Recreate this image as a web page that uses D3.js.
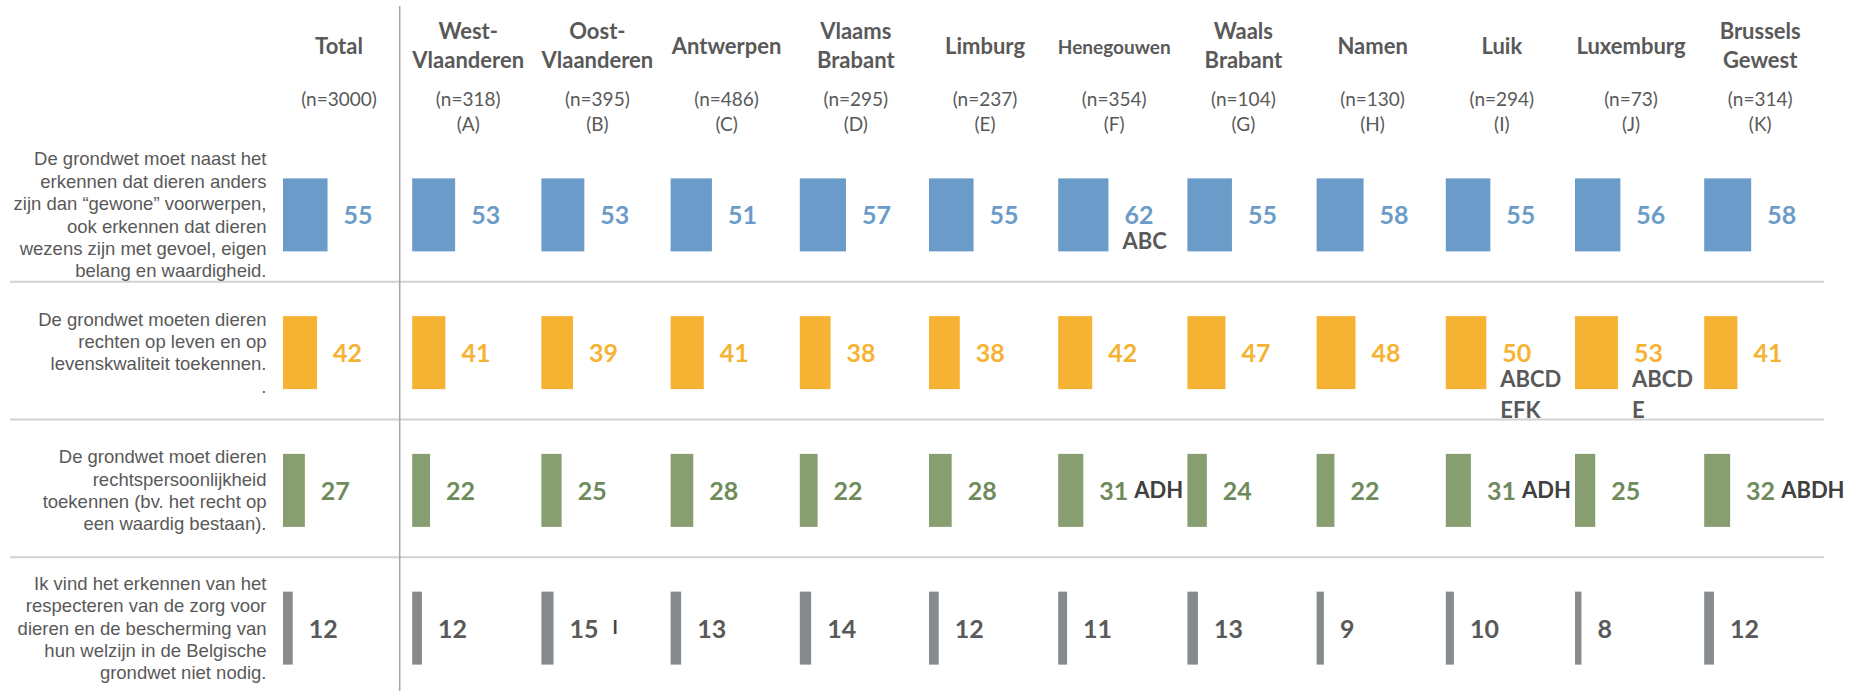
<!DOCTYPE html>
<html>
<head>
<meta charset="utf-8">
<script src="https://cdn.jsdelivr.net/npm/d3@7"></script>
<style>
  body { margin: 0; background: #fff; }
  svg { display: block; }
</style>
</head>
<body>
<svg id="chart"></svg>
<script>
// columns: total + provinces
const regions = ["Total", "West-Vlaanderen", "Oost-Vlaanderen", "Antwerpen", "Vlaams Brabant", "Limburg",
  "Henegouwen", "Waals Brabant", "Namen", "Luik", "Luxemburg", "Brussels Gewest"];
const headerLines = [["Total"], ["West-", "Vlaanderen"], ["Oost-", "Vlaanderen"], ["Antwerpen"], ["Vlaams", "Brabant"],
  ["Limburg"], ["Henegouwen"], ["Waals", "Brabant"], ["Namen"], ["Luik"], ["Luxemburg"], ["Brussels", "Gewest"]];
const sampleSizes = [3000, 318, 395, 486, 295, 237, 354, 104, 130, 294, 73, 314];
const groupLetters = ["", "A", "B", "C", "D", "E", "F", "G", "H", "I", "J", "K"];

// statements (row labels)
const statements = [
  ["De grondwet moet naast het", "erkennen dat dieren anders", "zijn dan \u201cgewone\u201d voorwerpen,", "ook erkennen dat dieren", "wezens zijn met gevoel, eigen", "belang en waardigheid."],
  ["De grondwet moeten dieren", "rechten op leven en op", "levenskwaliteit toekennen.", "."],
  ["De grondwet moet dieren", "rechtspersoonlijkheid", "toekennen (bv. het recht op", "een waardig bestaan)."],
  ["Ik vind het erkennen van het", "respecteren van de zorg voor", "dieren en de bescherming van", "hun welzijn in de Belgische", "grondwet niet nodig."]
];

// percentages per statement
const values1 = [55, 53, 53, 51, 57, 55, 62, 55, 58, 55, 56, 58];
const values2 = [42, 41, 39, 41, 38, 38, 42, 47, 48, 50, 53, 41];
const values3 = [27, 22, 25, 28, 22, 28, 31, 24, 22, 31, 25, 32];
const values4 = [12, 12, 15, 13, 14, 12, 11, 13, 9, 10, 8, 12];

// significance letters
const sig1 = ["", "", "", "", "", "", "ABC", "", "", "", "", ""];
const sig2 = ["", "", "", "", "", "", "", "", "", "ABCD EFK", "ABCD E", ""];
const sig3 = ["", "", "", "", "", "", "ADH", "", "", "ADH", "", "ABDH"];
const sig4 = ["", "", "I", "", "", "", "", "", "", "", "", ""];

const barColors = ["#6b9cc9", "#f6b333", "#879f70", "#888b8e"];
const labelColors = ["#6b9cc9", "#f6b333", "#6f8a5b", "#595959"];

const allValues = [values1, values2, values3, values4];
const allSig = [sig1, sig2, sig3, sig4];
const sigMode = ["below", "below", "inline", "inline"];

const width = 1853, height = 691;
const textGray = "#595959";

const svg = d3.select("#chart").attr("width", width).attr("height", height);

const col = d3.scaleBand().domain(regions).range([283, 283 + 12 * 129.2]);
const row = d3.scaleBand().domain(d3.range(4)).range([146, 697]);
const x = d3.scaleLinear().domain([0, 100]).range([0, 81]);
const barH = 73;
const colCenter = r => col(r) + 56;
const rowCenter = i => row(i) + row.bandwidth() / 2;

// separators between statements
svg.selectAll("line.sep")
  .data([1, 2, 3])
  .enter().append("line")
  .attr("x1", 10).attr("x2", 1824)
  .attr("y1", i => row(i) - 2).attr("y2", i => row(i) - 2)
  .attr("stroke", "#d2d2d2").attr("stroke-width", 2);

// divider after Total
const divX = col(regions[1]) - 12.5;
svg.append("line")
  .attr("x1", divX).attr("x2", divX).attr("y1", 6).attr("y2", height)
  .attr("stroke", "#a6a6a6").attr("stroke-width", 1.5);

// column headers
const head = svg.selectAll("g.head")
  .data(regions)
  .enter().append("g")
  .attr("transform", r => `translate(${colCenter(r)},0)`);

head.append("text")
  .attr("text-anchor", "middle")
  .attr("font-family", "Lato, sans-serif")
  .attr("font-weight", "bold")
  .attr("font-size", r => r === "Henegouwen" ? 19 : 22)
  .attr("fill", textGray)
  .each(function(r, i) {
    const lines = headerLines[i];
    const t = d3.select(this);
    lines.forEach((l, j) => {
      t.append("tspan").attr("x", 0)
        .attr("y", lines.length === 1 ? 54 : 39 + j * 29)
        .text(l);
    });
  });

head.append("text")
  .attr("text-anchor", "middle")
  .attr("font-family", "Lato, sans-serif")
  .attr("font-size", 19)
  .attr("fill", textGray)
  .attr("y", 106)
  .text((r, i) => `(n=${sampleSizes[i]})`);

head.filter((r, i) => groupLetters[i] !== "")
  .append("text")
  .attr("text-anchor", "middle")
  .attr("font-family", "Lato, sans-serif")
  .attr("font-size", 19)
  .attr("fill", textGray)
  .attr("y", 131)
  .text(r => `(${groupLetters[regions.indexOf(r)]})`);

// statement labels
svg.selectAll("text.stmt")
  .data(statements)
  .enter().append("text")
  .attr("class", "stmt")
  .attr("text-anchor", "end")
  .attr("font-family", "'Liberation Sans', Arial, sans-serif")
  .attr("font-size", 18.5)
  .attr("fill", textGray)
  .each(function(lines, i) {
    const t = d3.select(this);
    const y0 = rowCenter(i) - (lines.length - 1) / 2 * 22.4;
    lines.forEach((l, j) => {
      t.append("tspan").attr("x", 266.5).attr("y", y0 + j * 22.4)
        .attr("dominant-baseline", "central").text(l);
    });
  });

// bars and labels per statement
allValues.forEach((vals, i) => {
  const data = regions.map((r, k) => ({ region: r, value: vals[k], sig: allSig[i][k] }));
  const g = svg.append("g");
  const cy = rowCenter(i);

  g.selectAll("rect")
    .data(data)
    .enter().append("rect")
    .attr("x", d => col(d.region))
    .attr("y", cy - barH / 2)
    .attr("width", d => x(d.value))
    .attr("height", barH)
    .attr("fill", barColors[i]);

  const lab = g.selectAll("text.val")
    .data(data)
    .enter().append("text")
    .attr("class", "val")
    .attr("x", d => col(d.region) + x(d.value) + 16)
    .attr("y", cy + 9.5)
    .attr("font-family", "Lato, sans-serif")
    .attr("font-weight", "bold")
    .attr("font-size", 25)
    .attr("fill", labelColors[i])
    .text(d => d.value);

  const withSig = data.filter(d => d.sig !== "");
  if (sigMode[i] === "below") {
    g.selectAll("text.sig")
      .data(withSig)
      .enter().append("text")
      .attr("font-family", "Lato, sans-serif")
      .attr("font-weight", "bold")
      .attr("font-size", 22)
      .attr("fill", textGray)
      .each(function(d) {
        const t = d3.select(this);
        d.sig.split(" ").forEach((l, j) => {
          t.append("tspan")
            .attr("x", col(d.region) + x(d.value) + 14)
            .attr("y", cy + 9.5 + 25 + j * 31)
            .text(l);
        });
      });
  } else {
    lab.filter(d => d.sig !== "")
      .append("tspan")
      .attr("dx", i === 3 ? 14 : 6)
      .attr("dy", i === 3 ? -4 : -2)
      .attr("font-size", i === 3 ? 18 : 22)
      .attr("font-weight", "bold")
      .attr("fill", "#404040")
      .text(d => d.sig);
  }
});
</script>
</body>
</html>
